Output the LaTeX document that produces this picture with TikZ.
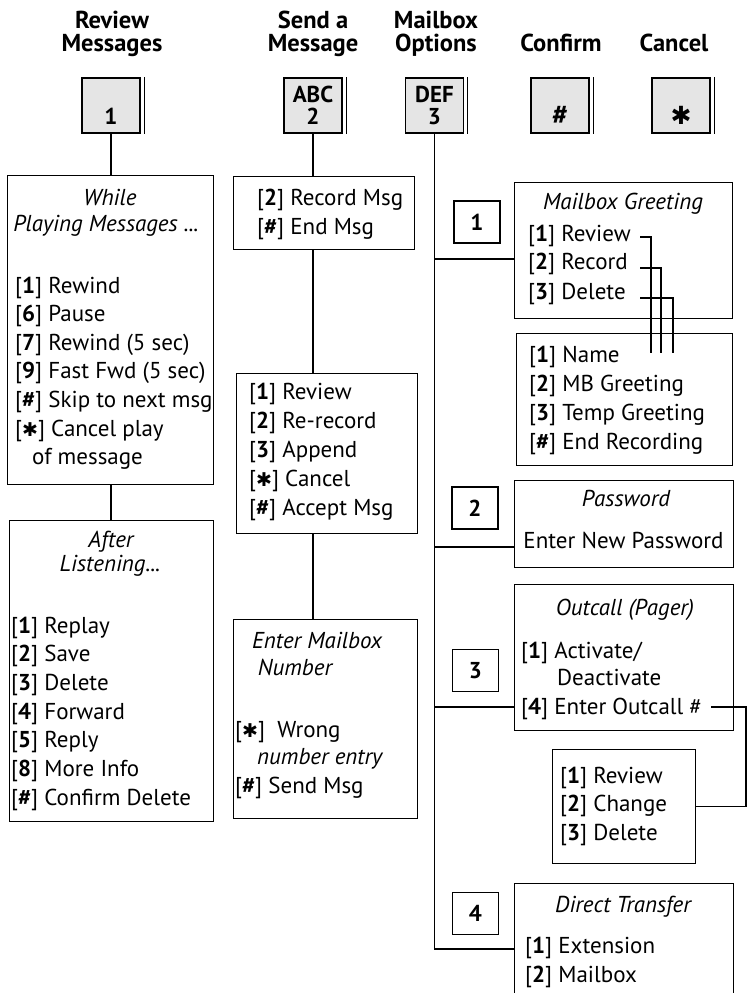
\documentclass[tikz,border=0pt]{standalone}
\usepackage{fontspec}
\setmainfont{PT Sans}
\newfontfamily\symf{DejaVu Sans}
\usetikzlibrary{positioning}

\definecolor{keygray}{gray}{0.9}
\newcommand\starsym{{\symf\fontsize{19}{19}\selectfont ✱}}
\newcommand\bk[1]{[\textbf{#1}]}

\begin{document}
\begin{tikzpicture}[x=1pt,y=-1pt,
    wire/.style={line width=1.3pt},
    panel/.style={draw, line width=1.3pt, anchor=north west, inner sep=0pt},
    key/.style={draw, line width=1.3pt, fill=keygray, minimum width=58pt, minimum height=55pt,
                inner sep=0pt, align=center, font=\bfseries\fontsize{23}{22}\selectfont},
    numbox/.style={draw, line width=1.3pt, minimum width=46pt, minimum height=42pt,
                inner sep=0pt, font=\bfseries\fontsize{23}{23}\selectfont},
    head/.style={anchor=base, inner sep=0pt, font=\bfseries\fontsize{24.5}{26}\selectfont},
    ttl/.style={anchor=base, inner sep=0pt, font=\itshape\fontsize{23}{28}\selectfont},
    item/.style={anchor=base west, inner sep=0pt, font=\fontsize{23}{28}\selectfont}]
\useasboundingbox (0,0) rectangle (747,993);
\clip (0,0) rectangle (747,993);

% headings over the keys
\node[head] (h1a) at (112,28) {Review};
\node[head] (h1b) at (112,51) {Messages};
\node[head] (h2a) at (313,28) {Send a};
\node[head] (h2b) at (313,51) {Message};
\node[head] (h3a) at (436,28) {Mailbox};
\node[head] (h3b) at (436,51) {Options};
\node[head] (h4) at (561,51) {Confirm};
\node[head] (h5) at (674,51) {Cancel};

% keys
\node[key] (k1) at (111,105.5) {\phantom{ABC}\\1};
\node[key] (k2) at (313,105.5) {ABC\\2};
\node[key] (k3) at (434.5,105.5) {DEF\\3};
\node[key] (k4) at (560,105.5) {\phantom{ABC}\\{\fontsize{28}{22}\selectfont\#}};
\node[key] (k5) at (681,105.5) {\phantom{ABC}\\{\symf\fontsize{25}{22}\selectfont ✱}};
\foreach \k in {k1,k2,k3,k4,k5}
    \draw[wire] ([xshift=3.5pt]\k.north east) -- ([xshift=3.5pt]\k.south east);

% review messages
\node[panel, minimum width=206pt, minimum height=309pt] (play) at (7,175) {};
\node[ttl] (play-a) at (110,205) {While};
\node[ttl] (play-b) at (106,231) {Playing Messages ...};
\foreach \t [count=\i from 0] in {{\bk{1} Rewind},{\bk{6} Pause},{\bk{7} Rewind (5 sec)},
        {\bk{9} Fast Fwd (5 sec)},{\bk{\#} Skip to next msg},{[\starsym] Cancel play},
        {\hspace*{17pt}of message}}
    \node[item] (play-\i) at (15,293+28.6*\i) {\t};

\node[panel, minimum width=204pt, minimum height=301pt] (after) at (9,520) {};
\node[ttl] (after-a) at (111,547) {After};
\node[ttl] (after-b) at (110,571) {Listening...};
\foreach \t [count=\i from 0] in {{\bk{1} Replay},{\bk{2} Save},{\bk{3} Delete},{\bk{4} Forward},
        {\bk{5} Reply},{\bk{8} More Info},{\bk{\#} Confirm Delete}}
    \node[item] (after-\i) at (11,633+28.7*\i) {\t};

\draw[wire] (k1.south) -- (k1.south |- play.north);
\draw[wire] (k1.south |- play.south) -- (k1.south |- after.north);

% send a message
\node[panel, minimum width=181pt, minimum height=73pt] (rec) at (233,176) {};
\node[item] (rec-0) at (257,205) {\bk{2} Record Msg};
\node[item] (rec-1) at (257,234) {\bk{\#} End Msg};

\node[panel, minimum width=181pt, minimum height=160pt] (edit) at (236,373) {};
\foreach \t [count=\i from 0] in {{\bk{1} Review},{\bk{2} Re-record},{\bk{3} Append},
        {[\starsym] Cancel},{\bk{\#} Accept Msg}}
    \node[item] (edit-\i) at (249,399+29*\i) {\t};

\node[panel, minimum width=184pt, minimum height=199pt] (dest) at (233,619) {};
\node[ttl] (dest-a) at (317,648) {Enter Mailbox};
\node[ttl] (dest-b) at (295,675) {Number};
\node[item] (dest-0) at (235,737) {[\starsym]\ \ Wrong};
\node[item, font=\itshape\fontsize{23}{28}\selectfont] (dest-1) at (257,764) {number entry};
\node[item] (dest-2) at (235,793) {\bk{\#} Send Msg};

\draw[wire] (k2.south) -- (k2.south |- rec.north);
\draw[wire] (k2.south |- rec.south) -- (k2.south |- edit.north);
\draw[wire] (k2.south |- edit.south) -- (k2.south |- dest.north);

% mailbox options
\node[numbox] (n1) at (477,222) {1};
\node[panel, minimum width=218pt, minimum height=136pt] (greet) at (514,182) {};
\node[ttl] (greet-a) at (623,209) {Mailbox Greeting};
\node[item] (greet-0) at (528,241) {\bk{1} Review};
\node[item] (greet-1) at (528,269) {\bk{2} Record};
\node[item] (greet-2) at (528,299) {\bk{3} Delete};

\node[panel, minimum width=216pt, minimum height=132pt] (which) at (516,333) {};
\foreach \t [count=\i from 0] in {{\bk{1} Name},{\bk{2} MB Greeting},{\bk{3} Temp Greeting},
        {\bk{\#} End Recording}}
    \node[item] (which-\i) at (529,362+29*\i) {\t};

\node[numbox] (n2) at (475,508) {2};
\node[panel, minimum width=219pt, minimum height=87pt] (pass) at (514,480) {};
\node[ttl] (pass-a) at (626,506) {Password};
\node[item, anchor=base] (pass-0) at (623.5,548) {Enter New Password};

\node[numbox] (n3) at (475.5,670.5) {3};
\node[panel, minimum width=219pt, minimum height=146pt] (outc) at (514,584) {};
\node[ttl] (outc-a) at (625,615) {Outcall (Pager)};
\node[item] (outc-0) at (521,658) {\bk{1} Activate/};
\node[item] (outc-1) at (557,685) {Deactivate};
\node[item] (outc-2) at (521,714) {\bk{4} Enter Outcall \#};

\node[panel, minimum width=143pt, minimum height=114pt] (pager) at (552,749) {};
\foreach \t [count=\i from 0] in {{\bk{1} Review},{\bk{2} Change},{\bk{3} Delete}}
    \node[item] (pager-\i) at (560,783+28.5*\i) {\t};

\node[numbox] (n4) at (475.5,913.5) {4};
\node[panel, minimum width=219pt, minimum height=140pt] (xfer) at (514,883) {};
\node[ttl] (xfer-a) at (623,912) {Direct Transfer};
\node[item] (xfer-0) at (525,953) {\bk{1} Extension};
\node[item] (xfer-1) at (525,982) {\bk{2} Mailbox};

% trunk and branches
\coordinate (b1) at (0,259);
\coordinate (b2) at (0,547);
\coordinate (b3) at (0,707);
\coordinate (b4) at (0,949);
\draw[wire] (k3.south) -- (k3.south |- b4) -- (xfer.west |- b4);
\foreach \b/\t in {b1/greet, b2/pass, b3/outc}
    \draw[wire] (k3.south |- \b) -- (\t.west |- \b);

% greeting choices into the recording box
\foreach \y/\x [count=\i] in {237/651, 268/661, 298/673} {
    \coordinate (gs\i) at (640,\y);
    \coordinate (ge\i) at (\x,353);
    \draw[wire] (gs\i) -| (ge\i);
}

% outcall number
\coordinate (oc-a) at (711,707);
\coordinate (oc-b) at (746,707);
\draw[wire] (oc-a) -- (oc-b) |- (pager.east);
\end{tikzpicture}
\end{document}
